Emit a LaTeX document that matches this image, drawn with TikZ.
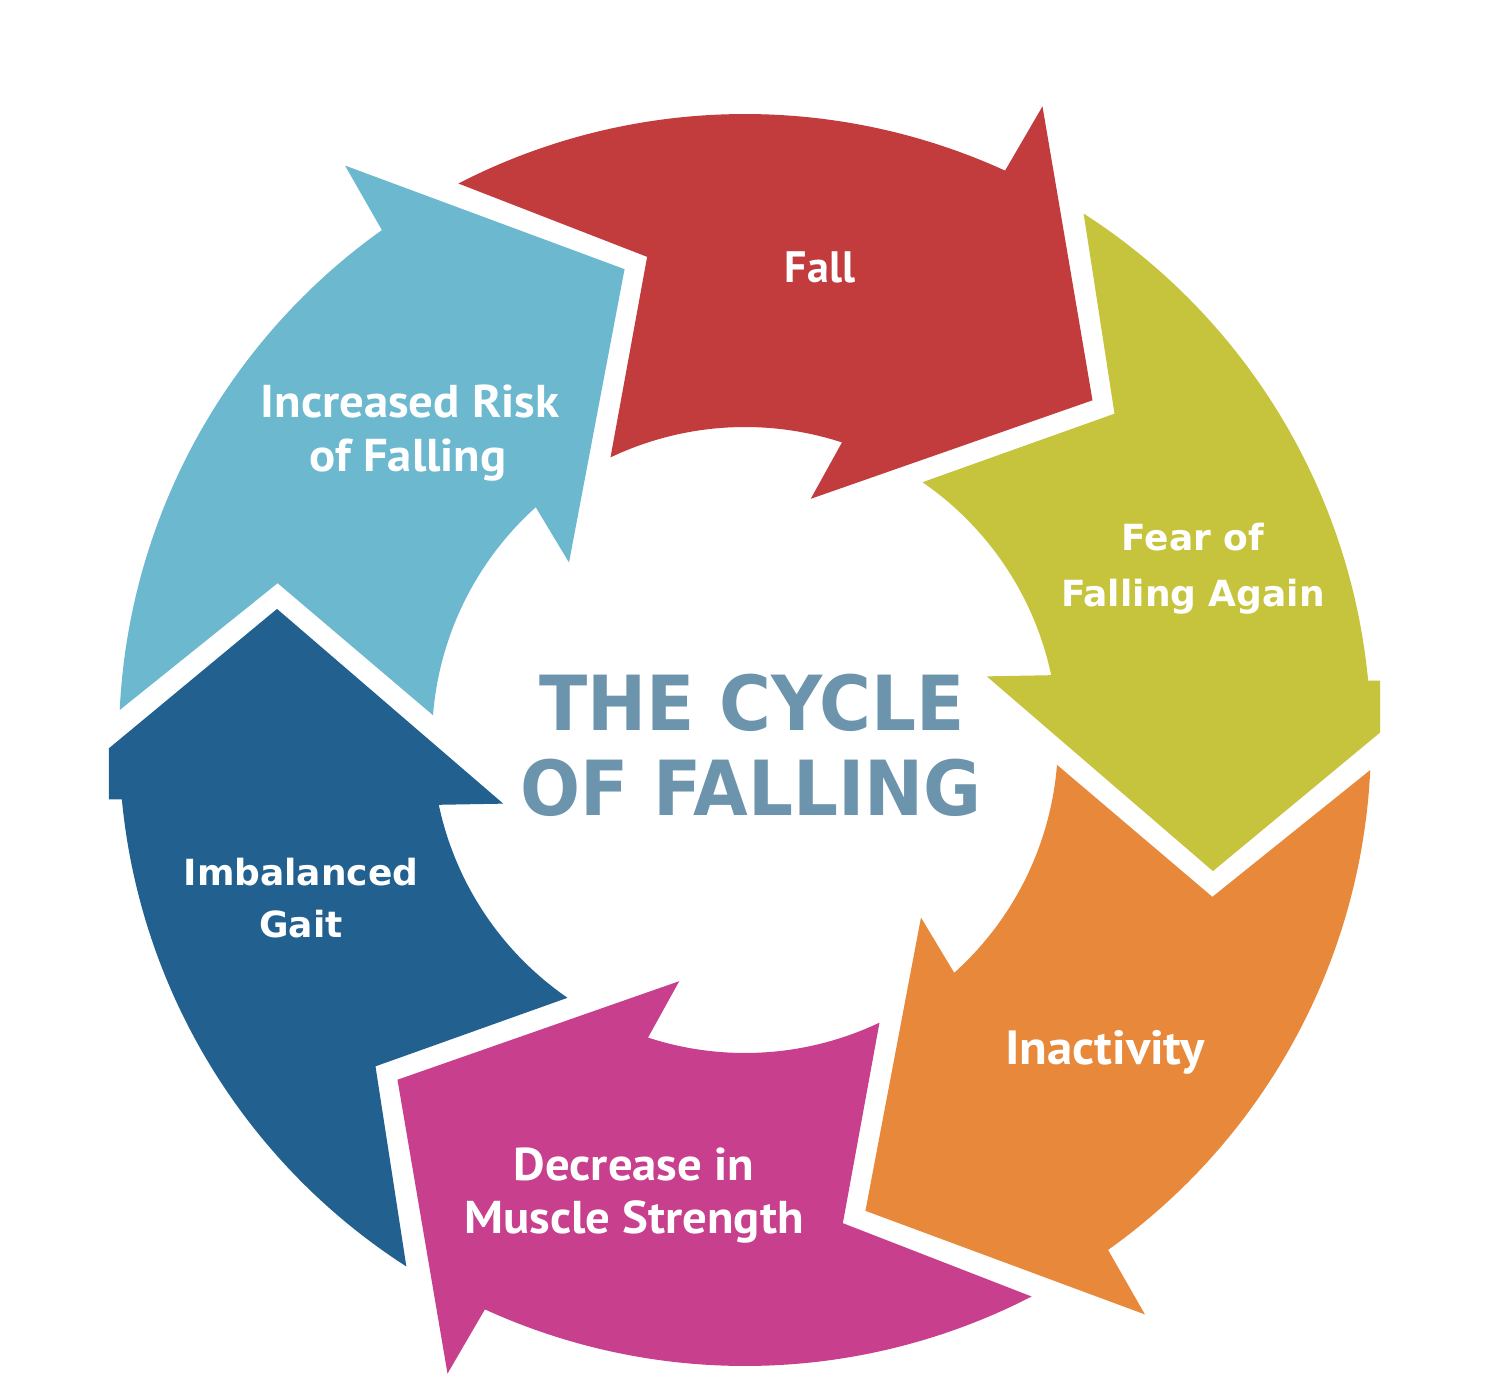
\documentclass[tikz,border=0pt]{standalone}
\usepackage{fontspec}
\setmainfont{DejaVu Sans}
\newfontfamily\dinf[FakeStretch=1.06]{PT Sans}
\newfontfamily\dinplain{PT Sans}
\newfontfamily\verdf{DejaVu Sans}
\newfontfamily\ttlf[FakeStretch=0.93]{DejaVu Sans}
\definecolor{cRed}{HTML}{C23B3D}
\definecolor{cGreen}{HTML}{C6C43C}
\definecolor{cOrange}{HTML}{E8883A}
\definecolor{cMag}{HTML}{C83F8E}
\definecolor{cBlue}{HTML}{22618F}
\definecolor{cCyan}{HTML}{6BB8CF}
\definecolor{cTitle}{HTML}{6C94AD}
\begin{document}
\begin{tikzpicture}[x=0.5pt,y=0.5pt,
  lbl/.style={text=white, inner sep=0pt, anchor=base},
  falllbl/.style={lbl, font=\dinplain\bfseries\fontsize{22}{26}\selectfont},
  dinlbl/.style={lbl, font=\dinf\bfseries\fontsize{23}{27}\selectfont},
  verlbl/.style={lbl, font=\verdf\bfseries\fontsize{18}{22}\selectfont},
  ttl/.style={text=cTitle, inner sep=0pt, anchor=base, font=\ttlf\bfseries\fontsize{38}{44}\selectfont}]
\useasboundingbox (-745,-659) rectangle (755,740);
\fill[white] (-745,-659) rectangle (755,740);
\begin{scope}
\clip (-636,-659) rectangle (635,740);
\foreach \T/\c in {117.25/cRed, 57.25/cGreen, -2.75/cOrange, -62.75/cMag, -122.75/cBlue, 177.25/cCyan} {
  \fill[\c] (\T:626) -- ({\T-15.8}:493) -- ({\T-1.8}:313)
    arc[start angle={\T-1.8}, end angle={\T-45.3}, radius=313]
    -- ({\T-42.5}:250) -- ({\T-72.9}:486) -- ({\T-52.4}:700) -- ({\T-51.8}:626)
    arc[start angle={\T-51.8}, end angle={\T}, radius=626] -- cycle;
}
\end{scope}
\node[falllbl] (fall) at (75,458) {Fall};
\node[dinlbl] (riskA) at (-335,323) {Increased Risk};
\node[dinlbl] (riskB) at (-337,269) {of Falling};
\node[verlbl] (fearA) at (448,190) {Fear of};
\node[verlbl] (fearB) at (448,134) {Falling Again};
\node[dinlbl, font=\dinf\bfseries\fontsize{24}{28}\selectfont] (inact) at (360,-324) {Inactivity};
\node[dinlbl] (decA) at (-111,-440) {Decrease in};
\node[dinlbl] (decB) at (-111,-493) {Muscle Strength};
\node[verlbl] (gaitA) at (-444,-145) {Imbalanced};
\node[verlbl] (gaitB) at (-444,-197) {Gait};
\node[ttl] (titleA) at (7,10) {THE CYCLE};
\node[ttl] (titleB) at (6,-75) {OF FALLING};
\end{tikzpicture}
\end{document}
